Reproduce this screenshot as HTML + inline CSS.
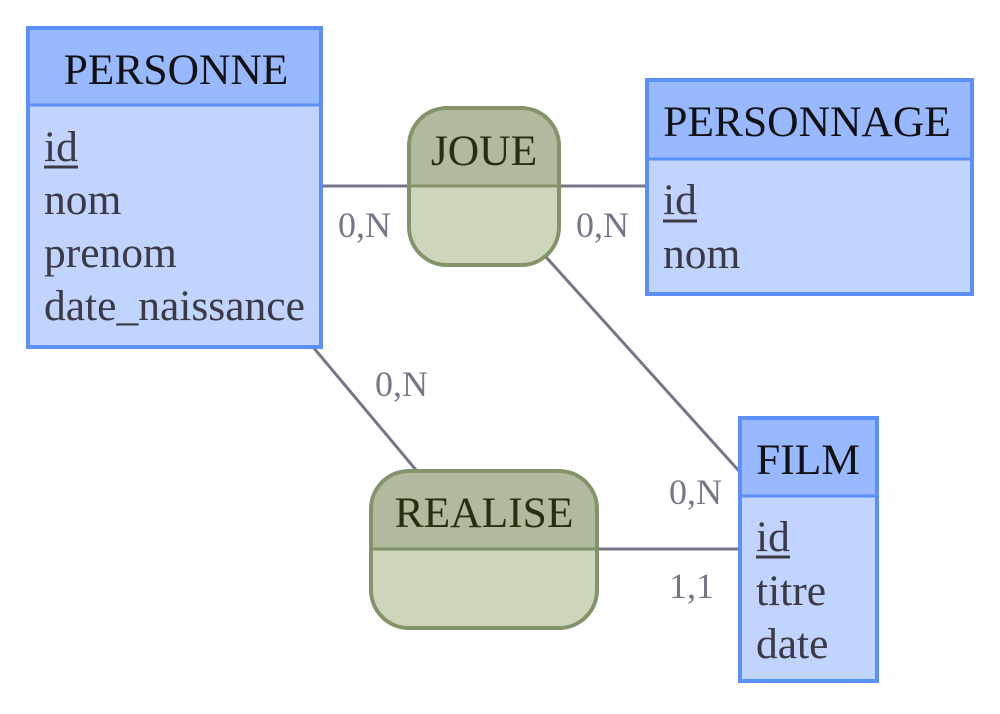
<!DOCTYPE html>
<html><head><style>html,body{margin:0;padding:0;background:#fff}</style></head><body>
<svg width="1000" height="709" viewBox="0 0 1000 709" xmlns="http://www.w3.org/2000/svg" font-family="Liberation Serif, serif">
<g stroke="#77758a" stroke-width="3" fill="none">
<line x1="321" y1="186" x2="409" y2="186"/>
<line x1="559" y1="186" x2="647" y2="186"/>
<line x1="546" y1="257" x2="739" y2="471"/>
<line x1="313" y1="347" x2="416" y2="470"/>
<line x1="597" y1="549" x2="740" y2="549"/>
</g>
<g fill="#77758a" font-size="36">
<text x="338" y="237">0,N</text>
<text x="576" y="237">0,N</text>
<text x="375" y="396">0,N</text>
<text x="669" y="504">0,N</text>
<text x="669" y="598">1,1</text>
</g>
<!-- PERSONNE -->
<rect x="28" y="28" width="293" height="319" fill="#c0d4ff" stroke="#5b8ff9" stroke-width="4"/>
<rect x="30" y="30" width="289" height="75" fill="#98b8ff"/>
<line x1="28" y1="105" x2="321" y2="105" stroke="#5b8ff9" stroke-width="3"/>
<text x="176" y="84" font-size="43.5" text-anchor="middle" fill="#111">PERSONNE</text>
<g font-size="43.5" fill="#3b3a44">
<text x="44" y="161">id</text><line x1="44" y1="167" x2="78" y2="167" stroke="#3b3a44" stroke-width="3"/>
<text x="44" y="214">nom</text>
<text x="44" y="267">prenom</text>
<text x="44" y="320">date_naissance</text>
</g>
<!-- PERSONNAGE -->
<rect x="647" y="80" width="325" height="214" fill="#c0d4ff" stroke="#5b8ff9" stroke-width="4"/>
<rect x="649" y="82" width="321" height="77" fill="#98b8ff"/>
<line x1="647" y1="159" x2="972" y2="159" stroke="#5b8ff9" stroke-width="3"/>
<text x="807" y="136" font-size="43.5" text-anchor="middle" fill="#111">PERSONNAGE</text>
<g font-size="43.5" fill="#3b3a44">
<text x="663" y="214">id</text><line x1="663" y1="221" x2="697" y2="221" stroke="#3b3a44" stroke-width="3"/>
<text x="663" y="268">nom</text>
</g>
<!-- FILM -->
<rect x="740" y="418" width="137" height="263" fill="#c0d4ff" stroke="#5b8ff9" stroke-width="4"/>
<rect x="742" y="420" width="133" height="76" fill="#98b8ff"/>
<line x1="740" y1="496" x2="877" y2="496" stroke="#5b8ff9" stroke-width="3"/>
<text x="808" y="474" font-size="43.5" text-anchor="middle" fill="#111">FILM</text>
<g font-size="43.5" fill="#3b3a44">
<text x="756" y="551">id</text><line x1="756" y1="557" x2="790" y2="557" stroke="#3b3a44" stroke-width="3"/>
<text x="756" y="605">titre</text>
<text x="756" y="658">date</text>
</g>
<!-- JOUE -->
<clipPath id="cj"><rect x="409" y="108" width="150" height="157" rx="38"/></clipPath>
<rect x="409" y="108" width="150" height="157" rx="38" fill="#cdd6ba"/>
<rect x="409" y="108" width="150" height="78" fill="#b0ba9e" clip-path="url(#cj)"/>
<line x1="409" y1="186" x2="559" y2="186" stroke="#84946a" stroke-width="3"/>
<rect x="409" y="108" width="150" height="157" rx="38" fill="none" stroke="#84946a" stroke-width="4"/>
<text x="484" y="165" font-size="43.5" text-anchor="middle" fill="#26300f">JOUE</text>
<!-- REALISE -->
<clipPath id="cr"><rect x="371" y="471" width="226" height="157" rx="38"/></clipPath>
<rect x="371" y="471" width="226" height="157" rx="38" fill="#cdd6ba"/>
<rect x="371" y="471" width="226" height="78" fill="#b0ba9e" clip-path="url(#cr)"/>
<line x1="371" y1="549" x2="597" y2="549" stroke="#84946a" stroke-width="3"/>
<rect x="371" y="471" width="226" height="157" rx="38" fill="none" stroke="#84946a" stroke-width="4"/>
<text x="484" y="527" font-size="43.5" text-anchor="middle" fill="#26300f">REALISE</text>
</svg>
</body></html>
